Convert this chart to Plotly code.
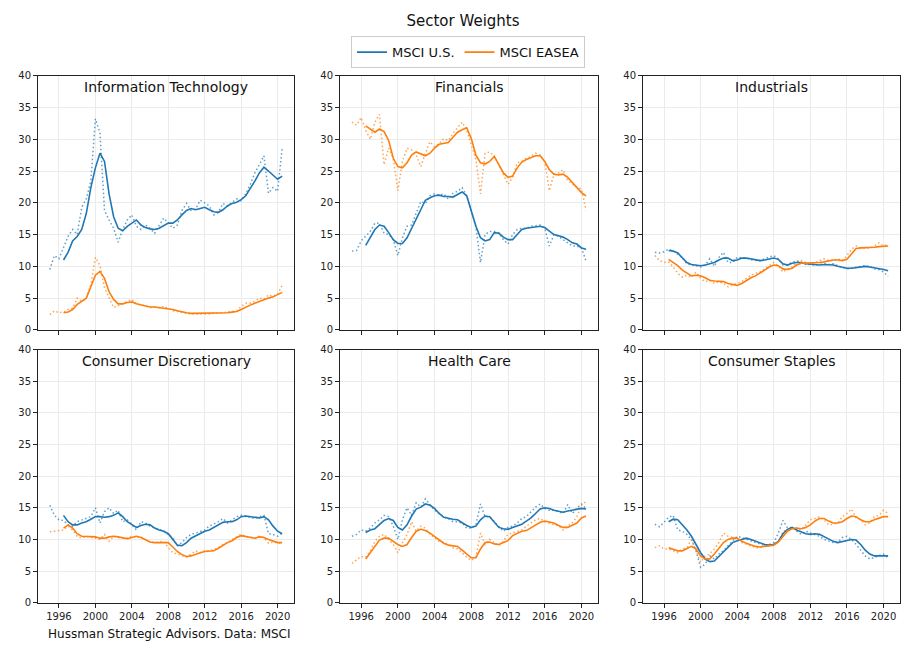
import plotly.graph_objects as go

# ---------------- data ----------------
RAW_YEARS = [1995 + 0.5 * i for i in range(52)]       # 1995.0 .. 2020.5
SMOOTH_YEARS = [1996.5 + 0.5 * i for i in range(49)]  # 1996.5 .. 2020.5

SECTORS = ["Information Technology", "Financials", "Industrials",
           "Consumer Discretionary", "Health Care", "Consumer Staples"]
SERIES_NAMES = ["MSCI U.S.", "MSCI EASEA"]
X_TICKS = [1996, 2000, 2004, 2008, 2012, 2016, 2020]
Y_TICKS = [0, 5, 10, 15, 20, 25, 30, 35, 40]

# Information Technology
it_us_raw = [9.5, 11.7, 11.2, 13.0, 14.7, 15.8, 15.0, 19.3, 20.6, 23.4,
             33.2, 31.0, 18.8, 17.3, 16.0, 13.8, 15.8, 17.3, 18.1, 16.3,
             15.8, 16.5, 16.0, 15.2, 16.5, 17.6, 16.8, 16.0, 16.5, 18.8,
             19.9, 18.8, 19.0, 20.4, 20.0, 19.5, 18.1, 18.5, 19.9, 19.5,
             20.1, 20.6, 20.3, 21.4, 22.9, 24.7, 26.0, 27.4, 21.5, 22.4,
             21.8, 28.6]
it_us_smooth = [11.0, 12.2, 14.0, 14.7, 15.8, 18.3, 22.4,
                25.5, 27.8, 26.5, 21.4, 17.8, 16.0, 15.6, 16.3, 16.8, 17.3,
                16.5, 16.1, 15.9, 15.8, 16.0, 16.4, 16.8, 16.8, 17.3, 18.1,
                18.8, 19.1, 18.9, 19.1, 19.3, 18.9, 18.6, 18.5, 18.9, 19.5,
                19.9, 20.1, 20.5, 21.1, 22.2, 23.4, 24.7, 25.6, 25.0, 24.4,
                23.7, 24.2]
it_ea_raw = [2.4, 3.0, 2.7, 2.8, 3.2, 3.4, 5.0, 4.5, 5.0, 7.1,
             11.4, 10.1, 6.6, 5.0, 3.5, 3.8, 4.2, 4.5, 4.8, 4.1,
             3.9, 3.8, 3.5, 3.6, 3.5, 3.7, 3.4, 3.0, 2.9, 2.7,
             2.6, 2.5, 2.5, 2.4, 2.5, 2.5, 2.6, 2.6, 2.7, 2.8,
             2.9, 3.0, 3.7, 4.2, 4.2, 4.5, 5.0, 4.8, 5.5, 5.3,
             5.6, 7.0]
it_ea_smooth = [2.7, 2.8, 3.2, 4.0, 4.5, 5.0, 6.8,
                8.6, 9.2, 8.1, 6.0, 4.8, 4.1, 4.1, 4.3, 4.4, 4.1,
                3.9, 3.8, 3.6, 3.6, 3.5, 3.5, 3.4, 3.2, 3.0, 2.8,
                2.7, 2.6, 2.6, 2.6, 2.6, 2.6, 2.6, 2.6, 2.6, 2.7,
                2.8, 2.9, 3.2, 3.6, 3.9, 4.2, 4.5, 4.8, 5.0, 5.2,
                5.5, 5.9]

# Financials
fin_us_raw = [12.4, 12.5, 14.0, 14.7, 15.5, 16.8, 16.8, 15.2, 15.0, 14.2,
              11.7, 14.5, 16.3, 16.5, 18.3, 20.2, 19.9, 21.1, 21.4, 21.2,
              21.4, 20.6, 21.5, 21.8, 22.4, 21.1, 18.8, 16.3, 10.6, 15.0,
              15.5, 15.5, 15.3, 14.2, 13.5, 15.0, 15.8, 16.0, 16.0, 16.3,
              16.4, 16.5, 16.0, 13.2, 15.0, 14.7, 14.2, 13.7, 13.2, 13.2,
              12.9, 10.8]
fin_us_smooth = [13.3, 14.5, 15.8, 16.5, 16.3, 15.3, 14.2,
                 13.6, 13.6, 14.5, 16.0, 17.6, 19.1, 20.4, 20.8, 21.1, 21.2,
                 21.0, 21.0, 20.9, 21.3, 21.7, 21.1, 18.8, 16.3, 14.5, 14.0,
                 14.2, 15.3, 15.2, 14.6, 14.2, 14.2, 15.0, 15.8, 16.0, 16.1,
                 16.1, 16.3, 16.1, 15.5, 15.0, 14.8, 14.6, 14.2, 13.7, 13.5,
                 12.9, 12.7]
fin_ea_raw = [32.7, 32.2, 33.4, 31.4, 30.0, 32.7, 33.9, 26.0, 28.6, 27.0,
              21.9, 26.5, 28.6, 28.3, 27.5, 25.7, 27.8, 29.6, 28.8, 29.3,
              30.1, 29.8, 30.9, 31.9, 32.7, 31.4, 29.1, 26.8, 21.4, 27.8,
              28.0, 27.3, 26.0, 24.5, 22.9, 24.0, 26.3, 26.5, 27.0, 27.3,
              27.8, 27.5, 26.5, 21.9, 24.5, 24.7, 25.2, 23.5, 22.9, 22.4,
              22.2, 18.8]
fin_ea_smooth = [32.1, 31.6, 31.1, 31.6, 31.2, 29.8, 27.0,
                 25.7, 25.5, 26.3, 27.5, 28.0, 27.7, 27.4, 27.8, 28.6, 29.2,
                 29.3, 29.5, 30.3, 31.1, 31.5, 31.8, 30.1, 27.5, 26.3, 26.1,
                 26.5, 27.3, 26.0, 24.7, 24.0, 24.2, 25.5, 26.4, 26.8, 27.1,
                 27.4, 27.4, 26.5, 25.2, 24.5, 24.4, 24.5, 24.0, 23.2, 22.4,
                 21.6, 21.1]

# Industrials
ind_us_raw = [12.2, 12.1, 12.3, 12.7, 12.4, 11.9, 11.4, 10.4, 10.3, 10.1,
              9.9, 10.2, 11.2, 10.0, 11.4, 12.2, 10.6, 10.6, 11.4, 11.4,
              11.3, 11.0, 10.9, 10.9, 11.2, 11.4, 11.7, 11.2, 10.2, 10.3,
              10.6, 10.9, 10.6, 10.3, 10.3, 10.2, 10.3, 10.4, 10.3, 10.4,
              10.1, 9.8, 9.6, 9.7, 9.9, 10.0, 10.1, 10.0, 9.6, 9.5,
              9.1, 8.4]
ind_us_smooth = [12.5, 12.4, 12.1, 11.4, 10.6, 10.3, 10.2,
                 10.1, 10.2, 10.4, 10.6, 11.0, 11.3, 11.3, 10.9, 11.0, 11.3,
                 11.3, 11.2, 11.0, 10.9, 11.0, 11.2, 11.3, 11.1, 10.4, 10.2,
                 10.5, 10.6, 10.6, 10.4, 10.3, 10.2, 10.2, 10.3, 10.3, 10.2,
                 10.0, 9.8, 9.7, 9.7, 9.8, 9.9, 10.0, 9.9, 9.8, 9.7,
                 9.5, 9.3]
ind_ea_raw = [11.7, 10.9, 10.6, 10.7, 9.9, 8.9, 8.3, 8.6, 8.3, 9.1,
              8.1, 7.6, 7.8, 7.3, 7.6, 7.3, 6.8, 7.1, 7.3, 7.6,
              8.1, 8.6, 8.9, 9.1, 9.6, 10.1, 10.6, 10.1, 9.1, 9.6,
              9.9, 10.6, 10.9, 10.6, 10.4, 10.6, 10.9, 11.2, 10.9, 10.9,
              11.2, 10.9, 11.7, 12.7, 13.2, 12.9, 12.9, 12.9, 13.2, 13.7,
              13.2, 13.5]
ind_ea_smooth = [11.1, 10.6, 10.1, 9.4, 8.9, 8.5, 8.6,
                 8.5, 8.2, 7.8, 7.7, 7.7, 7.6, 7.3, 7.1, 7.0, 7.3,
                 7.8, 8.2, 8.5, 8.9, 9.4, 9.9, 10.2, 10.1, 9.6, 9.5,
                 9.7, 10.2, 10.5, 10.5, 10.5, 10.5, 10.6, 10.7, 10.9, 11.0,
                 11.0, 10.9, 11.1, 11.9, 12.8, 12.9, 12.9, 12.9, 13.0, 13.1,
                 13.2, 13.2]

# Consumer Discretionary
cd_us_raw = [15.4, 13.8, 13.1, 13.0, 12.3, 12.1, 12.8, 13.1, 13.3, 13.6,
             15.0, 12.6, 14.4, 15.0, 14.1, 14.6, 12.8, 13.1, 12.3, 11.5,
             12.8, 12.6, 12.1, 11.8, 11.5, 11.3, 10.8, 10.3, 9.0, 9.5,
             10.3, 10.8, 11.0, 11.3, 11.5, 12.1, 12.4, 12.8, 13.3, 12.6,
             13.1, 13.6, 13.8, 13.6, 13.4, 13.3, 13.6, 13.8, 10.9, 10.8,
             10.5, 11.0]
cd_us_smooth = [13.8, 12.8, 12.3, 12.3, 12.6, 12.8, 13.2,
                13.6, 13.6, 13.5, 13.6, 13.8, 14.2, 13.6, 12.8, 12.3, 11.9,
                12.2, 12.4, 12.3, 11.8, 11.5, 11.3, 10.9, 10.0, 9.1, 9.0,
                9.5, 10.2, 10.6, 11.0, 11.3, 11.5, 11.9, 12.3, 12.7, 12.8,
                12.8, 13.1, 13.6, 13.7, 13.6, 13.4, 13.4, 13.6, 13.1, 12.1,
                11.3, 10.9]
cd_ea_raw = [11.2, 11.3, 11.4, 11.5, 12.1, 11.5, 10.5, 10.2, 10.5, 10.4,
             10.2, 10.0, 10.8, 9.7, 10.5, 10.3, 10.2, 10.3, 10.5, 10.3,
             10.4, 10.0, 9.6, 9.5, 9.6, 9.7, 8.7, 7.9, 7.7, 7.4,
             7.2, 7.7, 8.2, 7.9, 8.2, 8.2, 8.5, 8.7, 9.2, 9.5,
             10.0, 10.4, 10.8, 10.5, 10.3, 10.2, 10.5, 10.3, 9.4, 9.6,
             9.5, 9.3]
cd_ea_smooth = [11.8, 12.3, 11.8, 10.9, 10.5, 10.5, 10.5,
                10.4, 10.2, 10.2, 10.4, 10.5, 10.4, 10.2, 10.1, 10.3, 10.5,
                10.3, 9.9, 9.6, 9.5, 9.5, 9.5, 9.5, 8.8, 8.1, 7.6,
                7.3, 7.4, 7.7, 7.9, 8.1, 8.1, 8.2, 8.6, 9.1, 9.5,
                9.8, 10.3, 10.6, 10.5, 10.4, 10.2, 10.4, 10.3, 10.0, 9.7,
                9.5, 9.5]

# Health Care
hc_us_raw = [10.5, 10.8, 11.5, 11.3, 11.8, 12.6, 13.1, 13.8, 13.6, 12.1,
             10.0, 13.1, 15.0, 13.8, 15.8, 15.1, 16.4, 15.4, 14.6, 14.1,
             13.6, 13.3, 12.8, 12.8, 12.6, 11.8, 11.8, 12.3, 15.6, 13.6,
             13.6, 12.8, 12.1, 11.3, 11.9, 12.1, 12.6, 13.3, 13.6, 14.4,
             15.1, 15.6, 14.9, 14.6, 14.6, 14.4, 14.1, 15.5, 14.1, 14.9,
             15.6, 14.9]
hc_us_smooth = [11.1, 11.5, 11.7, 12.3, 13.0, 13.3, 13.0,
                11.9, 11.5, 12.3, 13.7, 14.8, 15.1, 15.6, 15.4, 14.9, 14.1,
                13.5, 13.3, 13.2, 13.1, 12.6, 12.2, 11.9, 12.1, 13.1, 13.7,
                13.6, 12.7, 11.9, 11.7, 11.6, 11.9, 12.1, 12.4, 12.9, 13.4,
                14.1, 14.8, 15.0, 14.9, 14.6, 14.5, 14.3, 14.5, 14.6, 14.8,
                14.9, 14.8]
hc_ea_raw = [6.2, 6.7, 7.3, 7.2, 8.2, 9.7, 10.5, 10.8, 10.0, 9.2,
             7.9, 9.5, 10.8, 12.8, 11.3, 12.1, 11.8, 10.8, 10.3, 9.7,
             9.5, 9.2, 8.7, 8.5, 7.9, 7.2, 6.7, 7.2, 11.0, 9.2,
             10.0, 9.5, 9.0, 9.7, 10.8, 11.0, 11.3, 11.5, 12.1, 12.6,
             13.1, 13.3, 12.8, 12.6, 12.3, 12.2, 11.5, 12.1, 12.6, 13.6,
             15.4, 16.0]
hc_ea_smooth = [6.9, 7.9, 9.1, 9.9, 10.2, 10.2, 9.7,
                9.2, 8.9, 9.2, 10.3, 11.3, 11.6, 11.4, 11.0, 10.5, 9.9,
                9.4, 9.1, 9.0, 8.9, 8.3, 7.7, 7.1, 7.1, 8.5, 9.5,
                9.6, 9.3, 9.2, 9.5, 9.8, 10.6, 11.0, 11.3, 11.4, 11.8,
                12.3, 12.7, 12.9, 12.8, 12.6, 12.2, 11.9, 11.9, 12.2, 12.6,
                13.4, 13.7]

# Consumer Staples
cs_us_raw = [12.4, 12.0, 12.7, 13.5, 13.8, 11.5, 11.3, 10.8, 10.0, 8.2,
             5.6, 6.1, 7.4, 6.9, 7.7, 8.2, 9.0, 9.7, 10.5, 10.3,
             10.0, 9.7, 9.5, 9.3, 9.0, 9.2, 9.5, 11.0, 13.0, 11.8,
             11.9, 11.3, 10.8, 11.3, 11.0, 10.8, 10.5, 10.0, 9.7, 9.5,
             9.5, 10.3, 10.5, 10.0, 9.2, 8.2, 7.4, 6.9, 7.2, 7.4,
             7.7, 7.1]
cs_us_smooth = [12.8, 13.2, 13.1, 12.3, 11.5, 10.5, 9.2,
                7.9, 6.9, 6.5, 6.6, 7.3, 8.1, 8.7, 9.5, 9.8, 10.0,
                10.2, 10.0, 9.7, 9.5, 9.2, 9.1, 9.2, 9.7, 10.9, 11.6,
                11.9, 11.5, 11.2, 10.9, 10.8, 10.9, 10.8, 10.4, 10.0, 9.7,
                9.5, 9.7, 9.9, 10.0, 9.9, 9.2, 8.3, 7.7, 7.4, 7.4,
                7.5, 7.4]
cs_ea_raw = [8.7, 9.0, 8.5, 8.5, 8.2, 7.9, 8.5, 8.7, 10.0, 8.2,
             6.4, 7.4, 7.7, 8.5, 9.5, 11.0, 10.5, 10.3, 10.0, 9.5,
             9.2, 9.0, 8.7, 8.7, 9.0, 9.0, 9.2, 9.5, 11.3, 11.5,
             11.8, 11.8, 11.5, 12.3, 13.1, 13.3, 13.6, 13.1, 12.3, 12.4,
             12.6, 13.6, 14.1, 14.8, 13.4, 13.1, 12.3, 12.6, 13.6, 13.8,
             14.6, 14.1]
cs_ea_smooth = [8.7, 8.5, 8.2, 8.2, 8.5, 8.9, 8.5,
                7.4, 6.9, 6.9, 7.7, 8.7, 9.5, 10.0, 10.2, 10.2, 9.7,
                9.4, 9.1, 8.9, 8.8, 8.9, 9.0, 9.1, 9.6, 10.5, 11.3,
                11.7, 11.8, 11.7, 11.9, 12.3, 12.9, 13.3, 13.3, 12.9, 12.6,
                12.6, 12.8, 13.3, 13.7, 13.6, 13.1, 12.8, 12.8, 13.1, 13.3,
                13.6, 13.6]

PANELS = [
    (it_us_raw, it_us_smooth, it_ea_raw, it_ea_smooth),
    (fin_us_raw, fin_us_smooth, fin_ea_raw, fin_ea_smooth),
    (ind_us_raw, ind_us_smooth, ind_ea_raw, ind_ea_smooth),
    (cd_us_raw, cd_us_smooth, cd_ea_raw, cd_ea_smooth),
    (hc_us_raw, hc_us_smooth, hc_ea_raw, hc_ea_smooth),
    (cs_us_raw, cs_us_smooth, cs_ea_raw, cs_ea_smooth),
]

# ---------------- layout / style ----------------
W, H = 918, 648
BLUE = "#1f77b4"
ORANGE = "#ff7f0e"
FONT = "DejaVu Sans"

COL_PX = [(38, 294), (340, 598), (643, 900)]
ROW_PX = [(71, 330), (350, 608)]

fig = go.Figure()
layout_axes = {}

for i, (us_raw, us_s, ea_raw, ea_s) in enumerate(PANELS):
    r, c = divmod(i, 3)
    n = i + 1
    xa = "x" if n == 1 else f"x{n}"
    ya = "y" if n == 1 else f"y{n}"
    for yvals, col in ((us_raw, BLUE), (ea_raw, ORANGE)):
        fig.add_trace(go.Scatter(
            x=RAW_YEARS, y=yvals, mode="lines", xaxis=xa, yaxis=ya,
            line=dict(color=col, width=1.5, dash="1.5px,2.5px"), opacity=0.7,
            showlegend=False, hoverinfo="skip"))
    for yvals, col, name in ((us_s, BLUE, SERIES_NAMES[0]), (ea_s, ORANGE, SERIES_NAMES[1])):
        fig.add_trace(go.Scatter(
            x=SMOOTH_YEARS, y=yvals, mode="lines", xaxis=xa, yaxis=ya,
            line=dict(color=col, width=1.6), name=name,
            showlegend=(i == 0)))

    x0, x1 = COL_PX[c]
    y0, y1 = ROW_PX[r]
    layout_axes[f"xaxis{'' if n == 1 else n}"] = dict(
        domain=[x0 / W, x1 / W], anchor=ya, range=[1993.7, 2021.8],
        tickmode="array", tickvals=X_TICKS, ticktext=[str(t) for t in X_TICKS],
        showticklabels=(r == 1), ticks="outside", ticklen=4, tickcolor="#222",
        showline=True, mirror=True, linecolor="#222", linewidth=1,
        showgrid=True, gridcolor="#ebebeb", gridwidth=1, zeroline=False,
        tickfont=dict(family=FONT, size=10, color="#222"))
    layout_axes[f"yaxis{'' if n == 1 else n}"] = dict(
        domain=[1 - y1 / H, 1 - y0 / H], anchor=xa, range=[0, 40],
        tickmode="array", tickvals=Y_TICKS, ticks="outside", ticklen=4, tickcolor="#222",
        showline=True, mirror=True, linecolor="#222", linewidth=1,
        showgrid=True, gridcolor="#ebebeb", gridwidth=1, zeroline=False,
        tickfont=dict(family=FONT, size=10, color="#222"))

annotations = []
for i, name in enumerate(SECTORS):
    r, c = divmod(i, 3)
    x0, x1 = COL_PX[c]
    y0, _ = ROW_PX[r]
    annotations.append(dict(
        text=name, xref="paper", yref="paper",
        x=(x0 + x1) / 2 / W, y=1 - (y0 + 12) / H,
        xanchor="center", yanchor="middle", showarrow=False,
        font=dict(family=FONT, size=14, color="#111")))

annotations.append(dict(
    text="Hussman Strategic Advisors. Data: MSCI", xref="paper", yref="paper",
    x=46 / W, y=1 - 640 / H, xanchor="left", yanchor="middle", showarrow=False,
    font=dict(family=FONT, size=12, color="#111")))

fig.update_layout(
    width=W, height=H,
    margin=dict(l=0, r=0, t=0, b=0),
    paper_bgcolor="white", plot_bgcolor="white",
    font=dict(family=FONT, color="#111"),
    title=dict(text="Sector Weights", x=463 / W, xanchor="center",
               y=1 - 21 / H, yanchor="middle",
               font=dict(family=FONT, size=15, color="#111")),
    legend=dict(orientation="h", x=468 / W, xanchor="center",
                y=1 - 47 / H, yanchor="middle",
                bordercolor="#cccccc", borderwidth=1, bgcolor="white",
                font=dict(family=FONT, size=13, color="#111"),
                itemwidth=30, tracegroupgap=0),
    annotations=annotations,
    showlegend=True,
    **layout_axes,
)

fig.write_html("out.html")
